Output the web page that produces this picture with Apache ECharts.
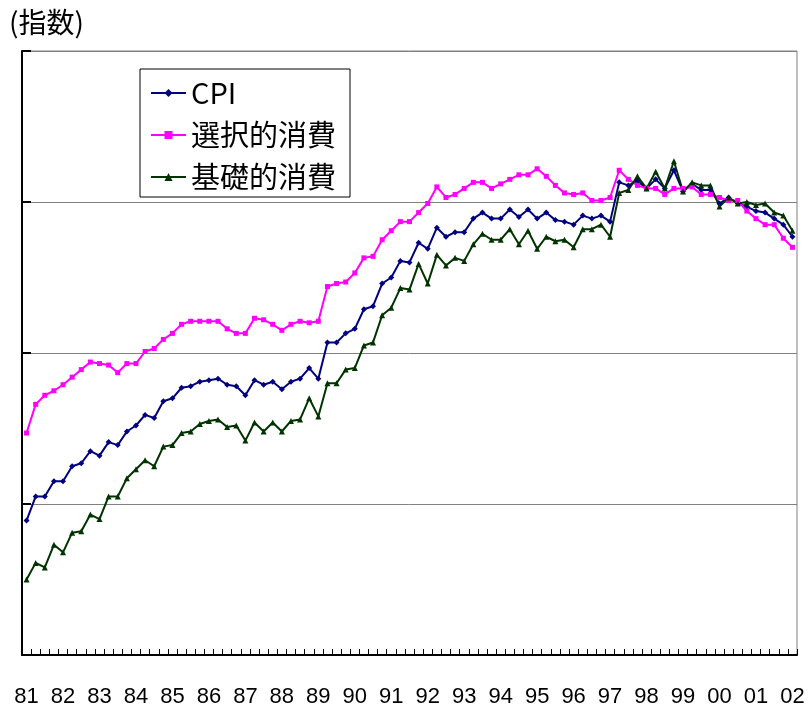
<!DOCTYPE html>
<html>
<head>
<meta charset="utf-8">
<script src="https://cdn.jsdelivr.net/npm/echarts@6/dist/echarts.min.js"></script>
<style>
html,body{margin:0;padding:0;background:#fff;}
#chart{width:809px;height:708px;}
</style>
</head>
<body>
<div id="chart"></div>
<script>
// Year labels (quarterly data 1981Q1 - 2002Q1)
const yearLabels = ['81','82','83','84','85','86','87','88','89','90','91','92','93','94','95','96','97','98','99','00','01','02'];
const seriesNames = ['CPI','選択的消費','基礎的消費'];
const yAxisTitle = '(指数)';

const cpi = [
  78.9,80.5,80.5,81.5, 81.5,82.5,82.7,83.5, 83.2,84.1,83.9,84.8, 85.2,85.9,85.7,86.8,
  87.0,87.7,87.8,88.1, 88.2,88.3,87.9,87.8, 87.2,88.2,87.9,88.1, 87.6,88.1,88.3,89.0,
  88.3,90.7,90.7,91.3, 91.6,92.9,93.1,94.6, 95.0,96.1,96.0,97.3, 96.9,98.3,97.7,98.0,
  98.0,98.9,99.3,98.9, 98.9,99.5,99.0,99.5, 98.9,99.3,98.8,98.7, 98.5,99.1,98.9,99.1,
  98.7,101.3,101.1,101.4, 100.9,101.5,100.9,102.1, 100.7,101.2,100.8,100.8, 99.9,100.3,99.9,99.7,
  99.4,99.3,98.9,98.5, 97.7
];
const selective = [
  84.7,86.6,87.2,87.5, 87.9,88.4,88.9,89.4, 89.3,89.2,88.7,89.3, 89.3,90.1,90.3,90.9,
  91.3,91.9,92.1,92.1, 92.1,92.1,91.6,91.3, 91.3,92.3,92.2,91.9, 91.5,91.9,92.1,92.0,
  92.1,94.4,94.6,94.7, 95.3,96.3,96.4,97.5, 98.1,98.7,98.7,99.3, 99.9,101.0,100.3,100.5,
  100.9,101.3,101.3,100.9, 101.2,101.5,101.8,101.8, 102.2,101.7,101.1,100.6, 100.5,100.6,100.1,100.1,
  100.3,102.1,101.5,101.1, 100.9,100.9,100.5,100.9, 100.9,101.0,100.5,100.5, 100.3,100.1,100.1,99.4,
  98.9,98.5,98.5,97.6, 97.0
];
const basic = [
  75.0,76.1,75.8,77.3, 76.8,78.1,78.2,79.3, 79.0,80.5,80.5,81.7, 82.3,82.9,82.5,83.8,
  83.9,84.7,84.8,85.3, 85.5,85.6,85.1,85.2, 84.2,85.4,84.8,85.4, 84.8,85.5,85.6,87.0,
  85.8,88.0,88.0,88.9, 89.0,90.5,90.7,92.5, 93.0,94.3,94.2,95.9, 94.6,96.5,95.8,96.3,
  96.1,97.2,97.9,97.5, 97.5,98.2,97.2,98.1, 96.9,97.7,97.4,97.5, 97.0,98.2,98.2,98.5,
  97.7,100.6,100.8,101.7, 100.9,102.0,100.9,102.7, 100.7,101.3,101.1,101.1, 99.7,100.3,99.9,100.0,
  99.8,99.9,99.3,99.1, 98.1
];

// quarter categories built from year labels, trimmed to data length
const categories = [];
yearLabels.forEach(y => { for (let q = 1; q <= 4; q++) categories.push(y + 'Q' + q); });
categories.length = cpi.length;

const chart = echarts.init(document.getElementById('chart'), null, {renderer: 'canvas'});
const cjk = '"Noto Sans CJK JP", "Noto Sans", sans-serif';
const latin = '"Liberation Sans", Arial, sans-serif';

chart.setOption({
  animation: false,
  backgroundColor: '#fff',
  title: {
    text: yAxisTitle,
    left: 4,
    top: 3,
    textStyle: {fontFamily: cjk, fontSize: 28, fontWeight: 'normal', color: '#000'}
  },
  legend: {
    orient: 'vertical',
    left: 140,
    top: 69,
    padding: [9, 14, 5, 10],
    itemGap: 12,
    itemWidth: 35,
    itemHeight: 10,
    borderColor: '#000',
    borderWidth: 1,
    backgroundColor: '#fff',
    textStyle: {fontFamily: cjk, fontSize: 29, lineHeight: 30, color: '#000'},
    data: seriesNames
  },
  grid: {
    left: 22, right: 12, top: 51, bottom: 53,
    show: true, borderColor: '#808080', borderWidth: 1, backgroundColor: 'transparent'
  },
  xAxis: {
    type: 'category',
    data: categories,
    boundaryGap: true,
    axisLine: {lineStyle: {color: '#000', width: 2}},
    axisTick: {show: true, inside: true, length: 6, interval: 0, lineStyle: {color: '#000', width: 1}},
    axisLabel: {
      interval: 3,
      margin: 31,
      fontFamily: latin,
      fontSize: 22,
      color: '#000',
      formatter: v => v.slice(0, 2)
    },
    splitLine: {show: false}
  },
  yAxis: {
    type: 'value',
    min: 70, max: 110, interval: 10,
    axisLine: {show: true, lineStyle: {color: '#000', width: 2}},
    axisTick: {show: true, inside: true, length: 9, lineStyle: {color: '#000', width: 2}},
    axisLabel: {show: false},
    splitLine: {show: true, lineStyle: {color: '#808080', width: 1}}
  },
  series: [
    {
      name: seriesNames[0], type: 'line', data: cpi,
      symbol: 'diamond', symbolSize: 6, showSymbol: true,
      itemStyle: {color: '#000080'},
      lineStyle: {color: '#000080', width: 2}
    },
    {
      name: seriesNames[1], type: 'line', data: selective,
      symbol: 'rect', symbolSize: 5, showSymbol: true,
      itemStyle: {color: '#FF00FF'},
      lineStyle: {color: '#FF00FF', width: 2}
    },
    {
      name: seriesNames[2], type: 'line', data: basic,
      symbol: 'triangle', symbolSize: 6, showSymbol: true,
      itemStyle: {color: '#003300'},
      lineStyle: {color: '#003300', width: 2}
    }
  ]
});
</script>
</body>
</html>
